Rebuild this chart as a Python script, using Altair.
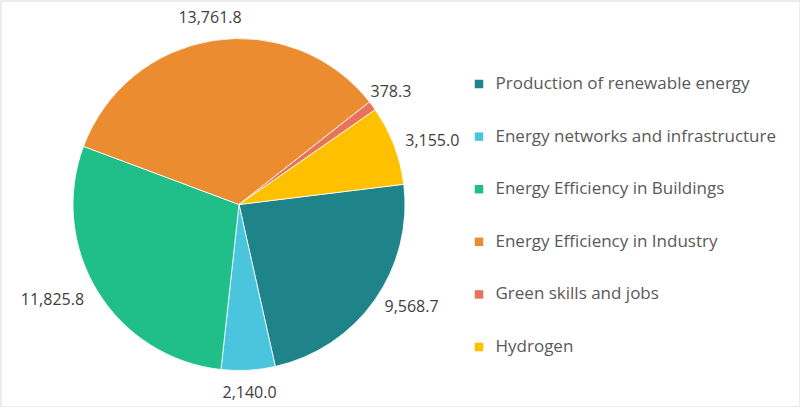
import altair as alt
import pandas as pd
import math

categories = [
    "Production of renewable energy",
    "Energy networks and infrastructure",
    "Energy Efficiency in Buildings",
    "Energy Efficiency in Industry",
    "Green skills and jobs",
    "Hydrogen",
]
values = [9568.7, 2140.0, 11825.8, 13761.8, 378.3, 3155.0]
colors = ["#1F8489", "#4BC5DE", "#20BF8A", "#EA8C2F", "#E8735A", "#FFC000"]

# which side of the pie each value label sits on (label alignment)
right_side = ["Production of renewable energy", "Hydrogen"]
left_side = ["Energy Efficiency in Buildings"]
centered = ["Energy networks and infrastructure", "Energy Efficiency in Industry", "Green skills and jobs"]

df = pd.DataFrame({"category": categories, "value": values, "order": list(range(len(categories)))})
df["label"] = [f"{v:,.1f}" for v in values]
total = float(sum(values))

start = math.radians(83)
theta_scale = alt.Scale(domain=[0, total], range=[start, start + 2 * math.pi])
color_scale = alt.Scale(domain=categories, range=colors)

CX, CY, R = 238.5, 204, 166

pie = alt.Chart(df).mark_arc(outerRadius=R, stroke="white", strokeWidth=0.8).encode(
    theta=alt.Theta("value:Q", stack=True, scale=theta_scale),
    order=alt.Order("order:Q"),
    x=alt.value(CX),
    y=alt.value(CY),
    color=alt.Color(
        "category:N",
        scale=color_scale,
        sort=categories,
        legend=alt.Legend(
            title=None,
            orient="none",
            legendX=470,
            legendY=75,
            symbolType="square",
            symbolSize=72,
            symbolStrokeWidth=0,
            labelFontSize=17,
            labelFont="Open Sans",
            labelColor="#595959",
            labelLimit=0,
            rowPadding=34.6,
            labelOffset=8,
        ),
    ),
)

lab_base = (
    alt.Chart(df)
    .transform_window(cum="sum(value)", sort=[alt.SortField("order")], frame=[None, 0])
    .transform_calculate(mid="datum.cum - datum.value / 2")
    .encode(
        theta=alt.Theta("mid:Q", stack=False, scale=theta_scale),
        x=alt.value(CX),
        y=alt.value(CY),
        text="label:N",
    )
)

def lab(cats, align, radius):
    return lab_base.transform_filter(
        alt.FieldOneOfPredicate(field="category", oneOf=cats)
    ).mark_text(radius=radius, align=align, fontSize=16, font="Open Sans", color="#404040")

text_r = lab(right_side, "left", 178)
text_l = lab(left_side, "right", 182)
text_c = lab(centered, "center", 189)

chart = (
    alt.layer(pie, text_r, text_l, text_c)
    .properties(width=799, height=406, padding=0.5, autosize=alt.AutoSizeParams(type="none"))
    .configure_view(stroke="#D9D9D9", strokeWidth=1)
)

chart.save("out.html", embed_options={"renderer": "svg", "actions": False})
